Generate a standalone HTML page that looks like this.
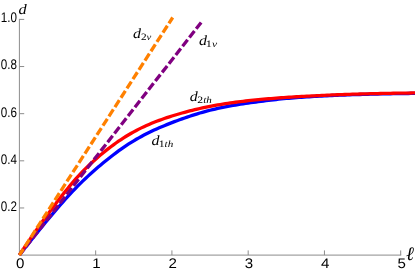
<!DOCTYPE html>
<html><head><meta charset="utf-8"><title>plot</title>
<style>
html,body{margin:0;padding:0;background:#fff;}
body{width:415px;height:273px;overflow:hidden;}
svg{display:block;will-change:transform;}
text{text-rendering:geometricPrecision;}
.ax line{stroke:#8c8c8c;stroke-width:1;}
.tl text{font-family:"Liberation Sans",sans-serif;font-size:14px;fill:#000;}
.mi{font-family:"Liberation Serif",serif;font-style:italic;font-size:14px;fill:#000;}
.ms{font-family:"Liberation Serif",serif;font-style:italic;font-size:9.3px;fill:#000;}
.rm{font-style:normal;font-size:9.8px;}
</style></head><body>
<svg width="415" height="273" viewBox="0 0 415 273">
<rect width="415" height="273" fill="#fff"/>
<g class="ax">
<line x1="19.4" y1="255.1" x2="401.2" y2="255.1"/>
<line x1="19.4" y1="255.1" x2="19.4" y2="18.9"/>
<line x1="95.66" y1="255.1" x2="95.66" y2="250.4"/><line x1="171.92" y1="255.1" x2="171.92" y2="250.4"/><line x1="248.18" y1="255.1" x2="248.18" y2="250.4"/><line x1="324.44" y1="255.1" x2="324.44" y2="250.4"/><line x1="400.70" y1="255.1" x2="400.70" y2="250.4"/><line x1="19.4" y1="207.96" x2="24.2" y2="207.96"/><line x1="19.4" y1="160.82" x2="24.2" y2="160.82"/><line x1="19.4" y1="113.68" x2="24.2" y2="113.68"/><line x1="19.4" y1="66.54" x2="24.2" y2="66.54"/><line x1="19.4" y1="19.40" x2="24.2" y2="19.40"/>
</g>
<g class="tl"><text x="20.30" y="268.2" text-anchor="middle" textLength="8.4" lengthAdjust="spacingAndGlyphs">0</text><text x="96.56" y="268.2" text-anchor="middle" textLength="8.4" lengthAdjust="spacingAndGlyphs">1</text><text x="172.82" y="268.2" text-anchor="middle" textLength="8.4" lengthAdjust="spacingAndGlyphs">2</text><text x="249.08" y="268.2" text-anchor="middle" textLength="8.4" lengthAdjust="spacingAndGlyphs">3</text><text x="325.34" y="268.2" text-anchor="middle" textLength="8.4" lengthAdjust="spacingAndGlyphs">4</text><text x="401.60" y="268.2" text-anchor="middle" textLength="8.4" lengthAdjust="spacingAndGlyphs">5</text><text x="16.9" y="210.86" text-anchor="end" textLength="16.2" lengthAdjust="spacingAndGlyphs">0.2</text><text x="16.9" y="163.72" text-anchor="end" textLength="16.2" lengthAdjust="spacingAndGlyphs">0.4</text><text x="16.9" y="116.58" text-anchor="end" textLength="16.2" lengthAdjust="spacingAndGlyphs">0.6</text><text x="16.9" y="69.44" text-anchor="end" textLength="16.2" lengthAdjust="spacingAndGlyphs">0.8</text><text x="16.9" y="22.30" text-anchor="end" textLength="16.2" lengthAdjust="spacingAndGlyphs">1.0</text></g>
<g fill="none" stroke-width="3.3">
<path d="M19.40,255.10 L21.94,251.84 L24.48,248.60 L27.03,245.37 L29.57,242.16 L32.11,238.96 L34.65,235.79 L37.19,232.63 L39.74,229.49 L42.28,226.38 L44.82,223.29 L47.36,220.22 L49.90,217.17 L52.45,214.15 L54.99,211.16 L57.53,208.20 L60.07,205.26 L62.61,202.36 L65.16,199.49 L67.70,196.67 L70.24,193.90 L72.78,191.18 L75.32,188.52 L77.87,185.93 L80.41,183.39 L82.95,180.92 L85.49,178.50 L88.03,176.14 L90.58,173.82 L93.12,171.54 L95.66,169.31 L98.20,167.11 L100.74,164.94 L103.29,162.82 L105.83,160.73 L108.37,158.69 L110.91,156.68 L113.45,154.72 L116.00,152.81 L118.54,150.94 L121.08,149.12 L123.62,147.35 L126.16,145.63 L128.71,143.96 L131.25,142.35 L133.79,140.79 L136.33,139.28 L138.87,137.83 L141.42,136.43 L143.96,135.07 L146.50,133.77 L149.04,132.50 L151.58,131.28 L154.13,130.09 L156.67,128.94 L159.21,127.82 L161.75,126.74 L164.29,125.68 L166.84,124.64 L169.38,123.63 L171.92,122.64 L174.46,121.66 L177.00,120.71 L179.55,119.77 L182.09,118.85 L184.63,117.96 L187.17,117.08 L189.71,116.22 L192.26,115.39 L194.80,114.58 L197.34,113.80 L199.88,113.04 L202.42,112.31 L204.97,111.60 L207.51,110.92 L210.05,110.26 L212.59,109.64 L215.13,109.04 L217.68,108.46 L220.22,107.91 L222.76,107.39 L225.30,106.88 L227.84,106.40 L230.39,105.93 L232.93,105.48 L235.47,105.05 L238.01,104.63 L240.55,104.23 L243.10,103.83 L245.64,103.45 L248.18,103.07 L250.72,102.71 L253.26,102.35 L255.81,102.00 L258.35,101.65 L260.89,101.32 L263.43,100.99 L265.97,100.68 L268.52,100.37 L271.06,100.07 L273.60,99.78 L276.14,99.50 L278.68,99.23 L281.23,98.97 L283.77,98.72 L286.31,98.48 L288.85,98.25 L291.39,98.03 L293.94,97.82 L296.48,97.62 L299.02,97.42 L301.56,97.24 L304.10,97.06 L306.65,96.89 L309.19,96.73 L311.73,96.58 L314.27,96.43 L316.81,96.28 L319.36,96.15 L321.90,96.01 L324.44,95.88 L326.98,95.76 L329.52,95.64 L332.07,95.52 L334.61,95.41 L337.15,95.30 L339.69,95.20 L342.23,95.09 L344.78,95.00 L347.32,94.90 L349.86,94.81 L352.40,94.72 L354.94,94.64 L357.49,94.56 L360.03,94.48 L362.57,94.40 L365.11,94.33 L367.65,94.26 L370.20,94.19 L372.74,94.13 L375.28,94.07 L377.82,94.01 L380.36,93.96 L382.91,93.90 L385.45,93.85 L387.99,93.80 L390.53,93.76 L393.07,93.72 L395.62,93.67 L398.16,93.64 L400.70,93.60 L403.24,93.56 L405.78,93.53 L408.33,93.50 L410.87,93.47 L413.41,93.44 L415.95,93.42 L418.49,93.40 L421.04,93.38 L423.58,93.36" stroke="#0000ff"/>
<path d="M19.40,255.10 L21.94,251.20 L24.48,247.35 L27.03,243.55 L29.57,239.81 L32.11,236.11 L34.65,232.46 L37.19,228.85 L39.74,225.28 L42.28,221.76 L44.82,218.27 L47.36,214.82 L49.90,211.41 L52.45,208.03 L54.99,204.68 L57.53,201.36 L60.07,198.07 L62.61,194.82 L65.16,191.62 L67.70,188.47 L70.24,185.39 L72.78,182.38 L75.32,179.45 L77.87,176.62 L80.41,173.89 L82.95,171.24 L85.49,168.68 L88.03,166.20 L90.58,163.79 L93.12,161.45 L95.66,159.17 L98.20,156.95 L100.74,154.78 L103.29,152.68 L105.83,150.63 L108.37,148.63 L110.91,146.69 L113.45,144.81 L116.00,142.99 L118.54,141.22 L121.08,139.52 L123.62,137.86 L126.16,136.27 L128.71,134.73 L131.25,133.25 L133.79,131.83 L136.33,130.46 L138.87,129.15 L141.42,127.89 L143.96,126.69 L146.50,125.53 L149.04,124.41 L151.58,123.34 L154.13,122.31 L156.67,121.32 L159.21,120.36 L161.75,119.44 L164.29,118.55 L166.84,117.68 L169.38,116.85 L171.92,116.04 L174.46,115.25 L177.00,114.48 L179.55,113.73 L182.09,113.01 L184.63,112.30 L187.17,111.62 L189.71,110.96 L192.26,110.32 L194.80,109.69 L197.34,109.09 L199.88,108.51 L202.42,107.95 L204.97,107.40 L207.51,106.88 L210.05,106.37 L212.59,105.89 L215.13,105.42 L217.68,104.97 L220.22,104.53 L222.76,104.12 L225.30,103.72 L227.84,103.33 L230.39,102.96 L232.93,102.60 L235.47,102.26 L238.01,101.93 L240.55,101.61 L243.10,101.30 L245.64,101.00 L248.18,100.72 L250.72,100.44 L253.26,100.17 L255.81,99.92 L258.35,99.67 L260.89,99.43 L263.43,99.20 L265.97,98.97 L268.52,98.76 L271.06,98.55 L273.60,98.34 L276.14,98.15 L278.68,97.96 L281.23,97.77 L283.77,97.59 L286.31,97.42 L288.85,97.25 L291.39,97.08 L293.94,96.92 L296.48,96.76 L299.02,96.61 L301.56,96.46 L304.10,96.32 L306.65,96.18 L309.19,96.04 L311.73,95.91 L314.27,95.78 L316.81,95.65 L319.36,95.53 L321.90,95.41 L324.44,95.30 L326.98,95.18 L329.52,95.07 L332.07,94.97 L334.61,94.86 L337.15,94.76 L339.69,94.67 L342.23,94.57 L344.78,94.48 L347.32,94.39 L349.86,94.31 L352.40,94.22 L354.94,94.14 L357.49,94.07 L360.03,93.99 L362.57,93.92 L365.11,93.85 L367.65,93.78 L370.20,93.72 L372.74,93.66 L375.28,93.60 L377.82,93.54 L380.36,93.48 L382.91,93.43 L385.45,93.38 L387.99,93.33 L390.53,93.29 L393.07,93.24 L395.62,93.20 L398.16,93.16 L400.70,93.13 L403.24,93.09 L405.78,93.06 L408.33,93.03 L410.87,93.00 L413.41,92.97 L415.95,92.95 L418.49,92.93 L421.04,92.91 L423.58,92.89" stroke="#ff0000"/>
<path d="M201.15,22.4 L19.40,255.10" stroke="#800080" stroke-dasharray="8.2 2.87" stroke-dashoffset="0.15"/>
<path d="M172.7,17.5 L19.40,255.10" stroke="#ff8000" stroke-dasharray="8.2 2.87" stroke-dashoffset="1.25"/>
</g>
<text x="133.0" y="37.7" class="mi" textLength="8" lengthAdjust="spacingAndGlyphs">d</text><text x="140.9" y="39.8" class="ms" textLength="10.4" lengthAdjust="spacingAndGlyphs"><tspan class="rm">2</tspan>v</text><text x="198.9" y="45.0" class="mi" textLength="8" lengthAdjust="spacingAndGlyphs">d</text><text x="205.8" y="47.3" class="ms" textLength="11.3" lengthAdjust="spacingAndGlyphs"><tspan class="rm">1</tspan>v</text><text x="189.8" y="100.7" class="mi" textLength="8" lengthAdjust="spacingAndGlyphs">d</text><text x="197.3" y="103.2" class="ms" textLength="14.5" lengthAdjust="spacingAndGlyphs"><tspan class="rm">2</tspan>th</text><text x="151.6" y="144.6" class="mi" textLength="8" lengthAdjust="spacingAndGlyphs">d</text><text x="158.7" y="146.7" class="ms" textLength="14.6" lengthAdjust="spacingAndGlyphs"><tspan class="rm">1</tspan>th</text>
<text x="18.4" y="13.6" class="mi" style="font-size:14.5px" textLength="8.2" lengthAdjust="spacingAndGlyphs">d</text>
<text x="406" y="259.5" style="font-family:'Liberation Serif',serif;font-style:italic;font-size:19px;fill:#000">&#8467;</text>
</svg>
</body></html>
